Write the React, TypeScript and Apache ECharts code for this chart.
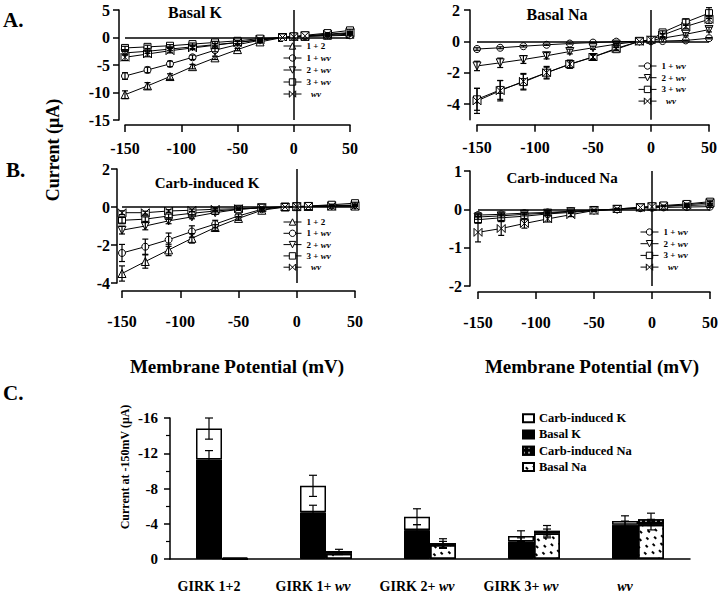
import React, { useEffect, useRef } from 'react';
import * as echarts from 'echarts';

// ---------- data ----------
const VOLTAGES = [-150, -130, -110, -90, -70, -50, -30, -10, 0, 10, 30, 50];
const IV_NAMES_K = ['1 + 2', '1 + wv', '2 + wv', '3 + wv', 'wv'];
const IV_NAMES_NA = ['1 + wv', '2 + wv', '3 + wv', 'wv'];

// Basal K
const BK_12 = [-10.4, -8.8, -7.1, -5.3, -3.7, -2.2, -0.8, 0.0, 0.1, 0.2, 0.4, 0.6];
const BK_1WV = [-7.0, -5.9, -4.8, -3.6, -2.3, -1.3, -0.5, 0.0, 0.1, 0.2, 0.3, 0.4];
const BK_2WV = [-2.8, -2.5, -2.1, -1.7, -1.3, -0.9, -0.4, 0.0, 0.1, 0.3, 0.5, 0.8];
const BK_3WV = [-1.9, -1.7, -1.5, -1.2, -0.9, -0.6, -0.2, 0.0, 0.2, 0.4, 0.8, 1.3];
const BK_WV = [-3.6, -3.0, -2.4, -1.9, -1.4, -0.9, -0.4, 0.0, 0.1, 0.3, 0.6, 0.9];
const BK_12_ERR = [0.7, 0.6, 0.5, 0.4, 0.3, 0.2, 0.1, 0, 0, 0, 0.1, 0.1];
const BK_1WV_ERR = [0.6, 0.5, 0.5, 0.4, 0.3, 0.2, 0.1, 0, 0, 0, 0.1, 0.1];
const BK_2WV_ERR = [0.4, 0.4, 0.3, 0.3, 0.2, 0.2, 0.1, 0, 0, 0, 0.1, 0.1];
const BK_3WV_ERR = [0.3, 0.3, 0.2, 0.2, 0.2, 0.1, 0.1, 0, 0, 0, 0.1, 0.2];
const BK_WV_ERR = [0.6, 0.5, 0.4, 0.3, 0.3, 0.2, 0.1, 0, 0, 0, 0.1, 0.1];

// Basal Na
const BN_1WV = [-0.49, -0.41, -0.31, -0.22, -0.14, -0.08, -0.02, 0, 0, 0.02, 0.06, 0.2];
const BN_2WV = [-1.57, -1.37, -1.16, -0.92, -0.65, -0.41, -0.18, 0, 0.05, 0.2, 0.45, 0.75];
const BN_3WV = [-3.7, -3.1, -2.6, -2.0, -1.47, -1.0, -0.5, 0, 0.1, 0.57, 1.22, 1.8];
const BN_WV = [-3.8, -3.15, -2.55, -2.0, -1.45, -1.0, -0.45, 0, 0.1, 0.4, 0.95, 1.4];
const BN_1WV_ERR = [0.08, 0.06, 0.05, 0.04, 0.03, 0.02, 0.01, 0, 0, 0, 0.02, 0.04];
const BN_2WV_ERR = [0.3, 0.3, 0.25, 0.2, 0.15, 0.1, 0.05, 0, 0, 0.05, 0.1, 0.15];
const BN_3WV_ERR = [0.7, 0.6, 0.5, 0.35, 0.25, 0.15, 0.1, 0, 0, 0.1, 0.2, 0.35];
const BN_WV_ERR = [0.8, 0.65, 0.5, 0.4, 0.25, 0.15, 0.1, 0, 0, 0.1, 0.15, 0.25];

// Carb-induced K
const CK_12 = [-3.5, -2.87, -2.26, -1.65, -1.08, -0.6, -0.17, 0, 0.02, 0.03, 0.05, 0.05];
const CK_1WV = [-2.42, -2.09, -1.72, -1.29, -0.9, -0.47, -0.12, 0, 0.02, 0.03, 0.08, 0.1];
const CK_2WV = [-1.22, -1.0, -0.73, -0.52, -0.3, -0.12, -0.04, 0, 0.02, 0.03, 0.06, 0.08];
const CK_3WV = [-0.7, -0.64, -0.47, -0.33, -0.21, -0.12, -0.04, 0, 0.03, 0.05, 0.12, 0.2];
const CK_WV = [-0.3, -0.3, -0.21, -0.17, -0.12, -0.09, -0.04, 0, 0.01, 0.02, 0.04, 0.05];
const CK_12_ERR = [0.4, 0.35, 0.3, 0.25, 0.15, 0.1, 0.05, 0, 0, 0, 0.02, 0.03];
const CK_1WV_ERR = [0.45, 0.4, 0.35, 0.3, 0.2, 0.1, 0.05, 0, 0, 0, 0.03, 0.05];
const CK_2WV_ERR = [0.2, 0.2, 0.15, 0.1, 0.08, 0.05, 0.03, 0, 0, 0, 0.02, 0.03];
const CK_3WV_ERR = [0.15, 0.12, 0.1, 0.08, 0.05, 0.04, 0.02, 0, 0, 0, 0.03, 0.05];
const CK_WV_ERR = [0.1, 0.08, 0.07, 0.06, 0.05, 0.03, 0.02, 0, 0, 0, 0.01, 0.02];

// Carb-induced Na
const CN_1WV = [-0.15, -0.13, -0.1, -0.08, -0.05, -0.02, 0, 0.03, 0.04, 0.05, 0.06, 0.07];
const CN_2WV = [-0.2, -0.17, -0.13, -0.1, -0.06, -0.03, 0, 0.04, 0.06, 0.08, 0.1, 0.12];
const CN_3WV = [-0.27, -0.22, -0.18, -0.12, -0.08, -0.03, 0.01, 0.05, 0.08, 0.1, 0.14, 0.2];
const CN_WV = [-0.6, -0.5, -0.37, -0.25, -0.14, -0.03, 0.01, 0.05, 0.07, 0.08, 0.12, 0.17];
const CN_1WV_ERR = [0.05, 0.04, 0.03, 0.03, 0.02, 0.01, 0.01, 0, 0, 0, 0.01, 0.02];
const CN_2WV_ERR = [0.06, 0.05, 0.04, 0.03, 0.02, 0.01, 0.01, 0, 0, 0, 0.02, 0.02];
const CN_3WV_ERR = [0.08, 0.07, 0.06, 0.04, 0.03, 0.02, 0.01, 0, 0, 0.01, 0.02, 0.04];
const CN_WV_ERR = [0.25, 0.18, 0.12, 0.08, 0.05, 0.03, 0.02, 0, 0, 0.01, 0.02, 0.03];

// Panel C
const BAR_CATEGORIES = ['GIRK 1+2', 'GIRK 1+ wv', 'GIRK 2+ wv', 'GIRK 3+ wv', 'wv'];
const BAR_BASAL_K = [-11.3, -5.3, -3.3, -2.0, -3.9];
const BAR_CARB_K = [-3.5, -3.0, -1.5, -0.6, -0.4];
const BAR_BASAL_NA = [0, -0.6, -1.6, -2.9, -3.9];
const BAR_CARB_NA = [-0.15, -0.3, -0.2, -0.3, -0.6];
const BAR_K_TOTAL_ERR = [1.2, 1.2, 0.9, 0.6, 0.6];
const BAR_BASAL_K_ERR = [1.0, 0.8, 0.6, 0.4, 0.4];
const BAR_NA_TOTAL_ERR = [0, 0.2, 0.5, 0.6, 0.7];
const BAR_BASAL_NA_ERR = [0, 0.1, 0.4, 0.5, 0.6];

// ---------- styling ----------
const SERIF = '"Liberation Serif", "Times New Roman", serif';
const BOWTIE = 'path://M0,0L10,5L0,10ZM20,0L10,5L20,10Z';
const SYMBOLS: Record<string, { symbol: string; rotate: number; size: number }> = {
  '1 + 2': { symbol: 'triangle', rotate: 0, size: 8 },
  '1 + wv': { symbol: 'circle', rotate: 0, size: 7 },
  '2 + wv': { symbol: 'triangle', rotate: 180, size: 8 },
  '3 + wv': { symbol: 'rect', rotate: 0, size: 7 },
  wv: { symbol: BOWTIE, rotate: 0, size: 8 },
};

const PANELS = [
  {
    title: 'Basal K', tx: 195, ty: 12,
    grid: { left: 125, top: 10, width: 225, height: 110 },
    yMin: -15, yMax: 5, yTicks: [-15, -10, -5, 0, 5], yOffset: 6, yMargin: 9, xOffset: 5, xMargin: 15,
    legend: { left: 283, top: 41, gap: 2 },
    names: IV_NAMES_K,
    values: [BK_12, BK_1WV, BK_2WV, BK_3WV, BK_WV],
    errors: [BK_12_ERR, BK_1WV_ERR, BK_2WV_ERR, BK_3WV_ERR, BK_WV_ERR],
  },
  {
    title: 'Basal Na', tx: 557, ty: 14,
    grid: { left: 477, top: 10, width: 232, height: 109.7 },
    yMin: -5, yMax: 2, yTicks: [-4, -2, 0, 2], yOffset: 7, yMargin: 10, xOffset: 5, xMargin: 15,
    legend: { left: 638, top: 61, gap: 1.7 },
    names: IV_NAMES_NA,
    values: [BN_1WV, BN_2WV, BN_3WV, BN_WV],
    errors: [BN_1WV_ERR, BN_2WV_ERR, BN_3WV_ERR, BN_WV_ERR],
  },
  {
    title: 'Carb-induced K', tx: 207, ty: 183,
    grid: { left: 122, top: 169, width: 233, height: 114 },
    yMin: -4, yMax: 2, yTicks: [-4, -2, 0, 2], yOffset: 5, yMargin: 7, xOffset: 8, xMargin: 22,
    legend: { left: 283, top: 217, gap: 1.3 },
    names: IV_NAMES_K,
    values: [CK_12, CK_1WV, CK_2WV, CK_3WV, CK_WV],
    errors: [CK_12_ERR, CK_1WV_ERR, CK_2WV_ERR, CK_3WV_ERR, CK_WV_ERR],
  },
  {
    title: 'Carb-induced Na', tx: 562, ty: 178,
    grid: { left: 478, top: 171, width: 232, height: 115 },
    yMin: -2, yMax: 1, yTicks: [-2, -1, 0, 1], yOffset: 8, yMargin: 8, xOffset: 6, xMargin: 22,
    legend: { left: 640, top: 227, gap: 1.7 },
    names: IV_NAMES_NA,
    values: [CN_1WV, CN_2WV, CN_3WV, CN_WV],
    errors: [CN_1WV_ERR, CN_2WV_ERR, CN_3WV_ERR, CN_WV_ERR],
  },
];

const BAR_GRID = { left: 170, top: 418, width: 520, height: 141 };
const BAR_W = 26;

const axisLineStyle = { color: '#000', width: 1.5 };
const tickFont = { color: '#000', fontFamily: SERIF, fontWeight: 'bold' as const, fontSize: 16 };

function wvRich(size: number) {
  return { i: { fontStyle: 'italic', fontWeight: 'bold', fontFamily: SERIF, fontSize: size, color: '#000' } };
}

function errorRenderer(capHalf: number, xShift: (api: any) => number) {
  return (params: any, api: any) => {
    const x = api.value(0);
    const y = api.value(1);
    const e = api.value(2);
    if (!e) return { type: 'group', children: [] };
    const top = api.coord([x, y - e]);
    const bot = api.coord([x, y + e]);
    const dx = xShift(api);
    const cx = top[0] + dx;
    const st = { stroke: '#000', lineWidth: 1.2 };
    return {
      type: 'group',
      children: [
        { type: 'line', shape: { x1: cx, y1: top[1], x2: cx, y2: bot[1] }, style: st },
        { type: 'line', shape: { x1: cx - capHalf, y1: top[1], x2: cx + capHalf, y2: top[1] }, style: st },
        { type: 'line', shape: { x1: cx - capHalf, y1: bot[1], x2: cx + capHalf, y2: bot[1] }, style: st },
      ],
    };
  };
}

function buildOption() {
  const grids: any[] = [];
  const xAxes: any[] = [];
  const yAxes: any[] = [];
  const series: any[] = [];
  const legends: any[] = [];
  const graphics: any[] = [];

  PANELS.forEach((p, g) => {
    grids.push({ ...p.grid, containLabel: false, outerBoundsMode: 'none' });
    xAxes.push({
      type: 'value', gridIndex: g, min: -150, max: 50, interval: 50, position: 'bottom', offset: p.xOffset,
      axisLine: { show: true, onZero: false, lineStyle: axisLineStyle },
      axisTick: { show: true, length: 7, lineStyle: axisLineStyle },
      axisLabel: { ...tickFont, margin: p.xMargin },
      splitLine: { show: false },
    });
    yAxes.push({
      type: 'value', gridIndex: g, min: p.yMin, max: p.yMax, position: 'left', offset: p.yOffset,
      axisLine: { show: true, onZero: false, lineStyle: axisLineStyle },
      axisTick: { show: true, length: 6, lineStyle: axisLineStyle, customValues: p.yTicks },
      axisLabel: { ...tickFont, lineHeight: 14, margin: p.yMargin, customValues: p.yTicks },
      splitLine: { show: false },
    });
    const errRows: any[] = [];
    p.names.forEach((name, k) => {
      const s = SYMBOLS[name];
      const vals = p.values[k];
      const errs = p.errors[k];
      VOLTAGES.forEach((v, i) => errRows.push([v, vals[i], errs[i]]));
      series.push({
        type: 'line', name, xAxisIndex: g, yAxisIndex: g,
        data: VOLTAGES.map((v, i) => [v, vals[i]]),
        symbol: s.symbol, symbolRotate: s.rotate, symbolSize: s.size,
        showAllSymbol: true,
        lineStyle: { color: '#000', width: 1 },
        itemStyle: { color: '#fff', borderColor: '#000', borderWidth: 1 },
        z: 3,
        markLine: k === 0 ? {
          silent: true, symbol: 'none', label: { show: false },
          lineStyle: { color: '#000', width: 1.5, type: 'solid' },
          data: [{ xAxis: 0 }, { yAxis: 0 }],
        } : undefined,
      });
    });
    series.push({
      type: 'custom', xAxisIndex: g, yAxisIndex: g, silent: true, z: 4,
      data: errRows, encode: { x: 0, y: 1 },
      renderItem: errorRenderer(3, () => 0),
    });
    legends.push({
      orient: 'vertical', left: p.legend.left, top: p.legend.top, padding: 0,
      backgroundColor: '#fff', itemWidth: 18, itemHeight: 8, itemGap: p.legend.gap, itemTextGap: 6,
      selectedMode: false, data: p.names,
      itemStyle: { color: '#fff', borderColor: '#000', borderWidth: 1 },
      lineStyle: { color: '#000', width: 1 },
      formatter: (name: string) => (name === 'wv' ? '  {i|wv}' : name.replace('wv', '{i|wv}')),
      textStyle: { color: '#000', fontFamily: SERIF, fontWeight: 'bold', fontSize: 9, lineHeight: 10, rich: wvRich(9) },
    });
    graphics.push({
      type: 'text', x: p.tx, y: p.ty,
      style: { text: p.title, fill: '#000', font: `bold ${g >= 2 ? 15 : 16}px ${SERIF}`, align: 'center', verticalAlign: 'middle', textAlign: 'center', textVerticalAlign: 'middle' },
    });
  });

  // Panel C
  const gb = grids.length;
  grids.push({ ...BAR_GRID, containLabel: false, outerBoundsMode: 'none' });
  xAxes.push({
    type: 'category', gridIndex: gb, data: BAR_CATEGORIES,
    axisLine: { show: true, lineStyle: axisLineStyle }, axisTick: { show: false },
    axisLabel: {
      interval: 0,
      color: '#000', fontFamily: SERIF, fontWeight: 'bold', fontSize: 14, margin: 20, padding: [0, 26, 0, 0],
      formatter: (v: string) => v.replace('wv', '{i|wv}'), rich: wvRich(14),
    },
    splitLine: { show: false },
  });
  yAxes.push({
    type: 'value', gridIndex: gb, min: -16, max: 0, interval: 4, inverse: true,
    axisLine: { show: true, lineStyle: axisLineStyle },
    axisTick: { show: true, length: 6, lineStyle: axisLineStyle },
    minorTick: { show: true, splitNumber: 2, length: 4, lineStyle: { color: '#000', width: 1.2 } },
    axisLabel: { ...tickFont, fontSize: 15, margin: 12 },
    splitLine: { show: false },
  });
  const barCommon = { xAxisIndex: gb, yAxisIndex: gb, barWidth: BAR_W, barGap: '0%' };
  series.push({
    ...barCommon, type: 'bar', name: 'Basal K', stack: 'K', data: BAR_BASAL_K,
    itemStyle: { color: '#000', borderColor: '#000', borderWidth: 1 },
  });
  series.push({
    ...barCommon, type: 'bar', name: 'Carb-induced K', stack: 'K', data: BAR_CARB_K,
    itemStyle: { color: '#fff', borderColor: '#000', borderWidth: 1.5 },
  });
  series.push({
    ...barCommon, type: 'bar', name: 'Basal Na', stack: 'Na', data: BAR_BASAL_NA,
    itemStyle: {
      color: '#fff', borderColor: '#000', borderWidth: 1.5,
      decal: {
        symbol: 'rect', symbolSize: 1, color: '#000',
        dashArrayX: [[3, 6], [0, 5, 3, 1]], dashArrayY: [1.4, 4], rotation: Math.PI / 4,
      },
    },
  });
  series.push({
    ...barCommon, type: 'bar', name: 'Carb-induced Na', stack: 'Na', data: BAR_CARB_NA,
    itemStyle: {
      color: '#000', borderColor: '#000', borderWidth: 1.5,
      decal: { symbol: 'rect', symbolSize: 0.8, color: '#fff', dashArrayX: [1.5, 3], dashArrayY: [1.5, 3], rotation: 0 },
    },
  });
  const barErrRows: any[] = [];
  BAR_CATEGORIES.forEach((_, i) => {
    barErrRows.push([i, BAR_BASAL_K[i] + BAR_CARB_K[i], BAR_K_TOTAL_ERR[i], -1]);
    barErrRows.push([i, BAR_BASAL_K[i], BAR_BASAL_K_ERR[i], -1]);
    barErrRows.push([i, BAR_BASAL_NA[i] + BAR_CARB_NA[i], BAR_NA_TOTAL_ERR[i], 1]);
    barErrRows.push([i, BAR_BASAL_NA[i], BAR_BASAL_NA_ERR[i], 1]);
  });
  series.push({
    type: 'custom', xAxisIndex: gb, yAxisIndex: gb, silent: true, z: 5,
    data: barErrRows, encode: { x: 0, y: 1 },
    renderItem: errorRenderer(4, (api: any) => (api.value(3) * BAR_W) / 2),
  });
  legends.push({
    orient: 'vertical', left: 522, top: 411, padding: 0, itemWidth: 11, itemHeight: 8, itemGap: 2, itemTextGap: 9,
    icon: 'rect', selectedMode: false,
    data: ['Carb-induced K', 'Basal K', 'Carb-induced Na', 'Basal Na'],
    textStyle: { color: '#000', fontFamily: SERIF, fontWeight: 'bold', fontSize: 12.5, lineHeight: 14.3 },
  });

  // Free texts
  const txt = (text: string, x: number, y: number, size: number, rot = 0, align = 'center') => ({
    type: 'text', x, y, rotation: rot,
    style: { text, fill: '#000', font: `bold ${size}px ${SERIF}`, align, verticalAlign: 'middle', textAlign: align, textVerticalAlign: 'middle' },
  });
  graphics.push(txt('A.', 3, 20, 21, 0, 'left'));
  graphics.push(txt('B.', 6, 170, 21, 0, 'left'));
  graphics.push(txt('C.', 3, 393, 21, 0, 'left'));
  graphics.push(txt('Current (μA)', 53, 150, 18, Math.PI / 2));
  graphics.push(txt('Membrane Potential (mV)', 237, 366, 19));
  graphics.push(txt('Membrane Potential (mV)', 592, 366, 19));
  graphics.push(txt('Current at -150mV (μA)', 125, 467, 12, Math.PI / 2));

  return {
    animation: false,
    backgroundColor: '#fff',
    grid: grids,
    xAxis: xAxes,
    yAxis: yAxes,
    legend: legends,
    series,
    graphic: graphics,
  };
}

export default function App() {
  const ref = useRef<HTMLDivElement>(null);
  useEffect(() => {
    if (!ref.current) return;
    const chart = echarts.init(ref.current, undefined, { renderer: 'svg' });
    chart.setOption(buildOption() as any);
    return () => chart.dispose();
  }, []);
  return (
    <div
      ref={ref}
      style={{ position: 'absolute', left: 0, top: 0, width: 720, height: 594, background: '#fff' }}
    />
  );
}
